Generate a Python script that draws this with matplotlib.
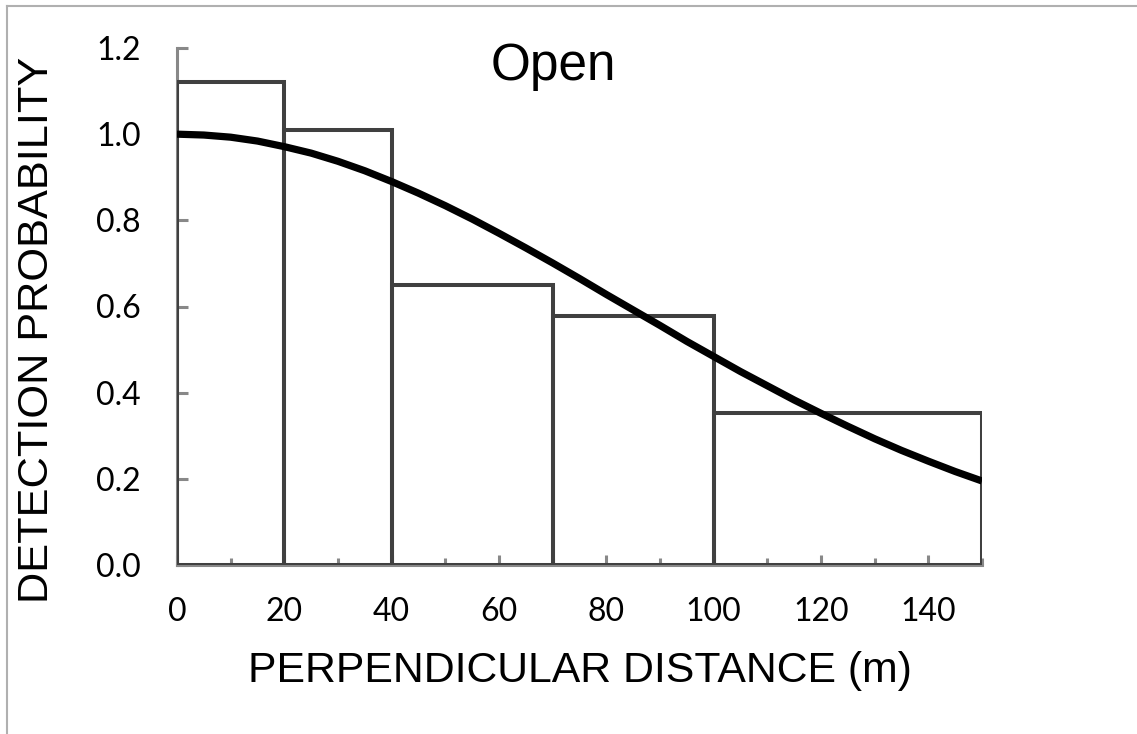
import numpy as np
import matplotlib
matplotlib.use("Agg")
import matplotlib.pyplot as plt
from matplotlib.lines import Line2D

# Histogram bins (perpendicular distance, m) and scaled detection heights
bin_left = [0, 20, 40, 70, 100]
bin_right = [20, 40, 70, 100, 150]
bin_height = [1.12, 1.01, 0.65, 0.577, 0.353]

# Fitted detection curve, every 5 m
curve_x = [0, 5, 10, 15, 20, 25, 30, 35, 40, 45, 50, 55, 60, 65, 70, 75,
           80, 85, 90, 95, 100, 105, 110, 115, 120, 125, 130, 135, 140, 145, 150]
curve_y = [1.0, 0.998, 0.993, 0.984, 0.971, 0.956, 0.937, 0.915, 0.890, 0.863,
           0.834, 0.803, 0.770, 0.736, 0.701, 0.665, 0.628, 0.592, 0.556, 0.519,
           0.484, 0.449, 0.416, 0.383, 0.352, 0.322, 0.293, 0.266, 0.241, 0.217, 0.195]

x_ticks = [0, 20, 40, 60, 80, 100, 120, 140]
y_ticks = [0.0, 0.2, 0.4, 0.6, 0.8, 1.0, 1.2]

W, H = 1137, 734
fig = plt.figure(figsize=(W / 100, H / 100), dpi=100)
ax = fig.add_axes([177 / W, 1 - 565 / H, (982 - 177) / W, (565 - 48) / H])

axis_grey = "#888888"
bar_grey = "#404040"

# Bars as open rectangles
widths = [r - l for l, r in zip(bin_left, bin_right)]
ax.bar(bin_left, bin_height, width=widths, align="edge", fill=False,
       edgecolor=bar_grey, linewidth=2.9, zorder=2)

# Detection function
ax.plot(curve_x, curve_y, color="black", linewidth=5.2, zorder=3,
        solid_capstyle="butt")

ax.set_xlim(0, 150)
ax.set_ylim(0, 1.2)
ax.set_xticks(x_ticks)
ax.set_xticks(np.arange(0, 151, 10), minor=True)
ax.set_yticks(y_ticks)
ax.set_yticklabels([f"{v:.1f}" for v in y_ticks])

for s in ["top", "right"]:
    ax.spines[s].set_visible(False)
for s in ["left", "bottom"]:
    ax.spines[s].set_color(axis_grey)
    ax.spines[s].set_linewidth(2.2)
    ax.spines[s].set_capstyle("projecting")
    ax.spines[s].set_zorder(1.5)

ax.tick_params(axis="x", which="major", direction="in", length=7, width=2.2,
               color=axis_grey, pad=23, labelsize=23)
ax.tick_params(axis="x", which="minor", direction="in", length=5, width=2.2,
               color=axis_grey)
ax.tick_params(axis="y", which="major", direction="in", length=8, width=2.2,
               color=axis_grey, pad=26, labelsize=23)
for lab in ax.get_xticklabels() + ax.get_yticklabels():
    lab.set_fontfamily("Lato")

# Texts
fig.text(553 / W, 1 - 80 / H, "Open", fontsize=37, family="Liberation Sans",
         ha="center", va="baseline")
fig.text(580 / W, 1 - 682 / H, "PERPENDICULAR DISTANCE (m)", fontsize=30.8,
         family="Liberation Sans", ha="center", va="baseline")
fig.text(37 / W, 1 - 330 / H, "DETECTION PROBABILITY", fontsize=31.2,
         family="Liberation Sans", rotation=90, ha="center", va="center")

# Light frame at the left and top of the image
fig.add_artist(Line2D([6.5 / W, 6.5 / W], [0, 1 - 6 / H], color="#b0b0b0",
                      linewidth=1.5, transform=fig.transFigure))
fig.add_artist(Line2D([6.5 / W, 1], [1 - 6 / H, 1 - 6 / H], color="#b0b0b0",
                      linewidth=1.5, transform=fig.transFigure))

fig.savefig("out.png", dpi=100, facecolor="white")
